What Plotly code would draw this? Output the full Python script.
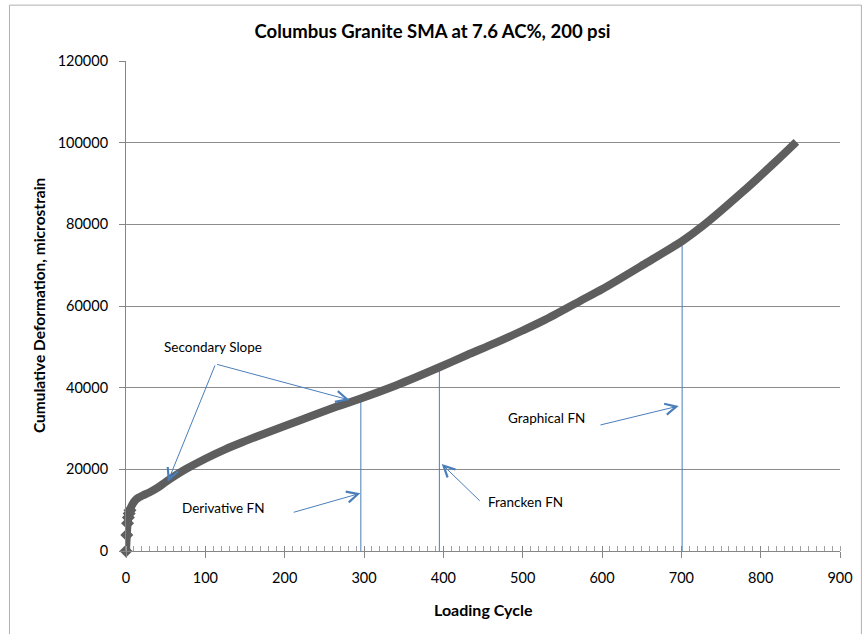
import plotly.graph_objects as go

# ---- data ----
cycles = [0, 1, 2, 3, 4, 5, 6, 8, 10, 13, 17, 21, 30, 40, 50, 60, 75, 100, 125, 150,
          175, 200, 237, 265, 295, 341, 395, 430, 465, 500, 528, 573, 600, 652, 701,
          727, 777, 818, 845]
deformation = [0, 3900, 6800, 8200, 9200, 10000, 10600, 11400, 12000, 12700, 13200,
               13600, 14400, 15500, 16900, 18200, 20000, 22600, 24900, 26900, 28800,
               30600, 33300, 35300, 37300, 40600, 45000, 48000, 50900, 54000, 56600,
               61300, 64100, 70100, 75900, 79600, 87900, 95200, 100200]

fn_names = ["Derivative FN", "Francken FN", "Graphical FN"]
fn_cycles = [296, 395, 701]
fn_tops = [36600, 44200, 74700]

x_ticks = [0, 100, 200, 300, 400, 500, 600, 700, 800, 900]
y_ticks = [0, 20000, 40000, 60000, 80000, 100000, 120000]

FONT = "Lato"
BLUE = "#4a7ebb"
GREY = "#5e5e5e"

fig = go.Figure()

# FN vertical lines
for c, t in zip(fn_cycles, fn_tops):
    fig.add_trace(go.Scatter(x=[c, c], y=[0, t], mode="lines",
                             line=dict(color=BLUE, width=1), hoverinfo="skip",
                             showlegend=False))

# main curve
fig.add_trace(go.Scatter(x=cycles, y=deformation, mode="lines",
                         line=dict(color=GREY, width=8, shape="spline", smoothing=0.8),
                         showlegend=False, cliponaxis=False))
# distinct early markers
fig.add_trace(go.Scatter(x=cycles[:6], y=deformation[:6], mode="markers",
                         marker=dict(symbol="diamond", size=10, color=GREY),
                         showlegend=False, cliponaxis=False))

ann_font = dict(family=FONT, size=13.5, color="black")

def arrow(x0, y0, x1, y1):
    fig.add_annotation(x=x1, y=y1, ax=x0, ay=y0, xref="x", yref="y",
                       axref="x", ayref="y", text="", showarrow=True,
                       arrowhead=5, arrowsize=2.2, arrowwidth=1, arrowcolor=BLUE)

# text labels
fig.add_annotation(x=109.5, y=50030, text="Secondary Slope", showarrow=False, font=ann_font)
fig.add_annotation(x=123, y=10460, text="Derivative FN", showarrow=False, font=ann_font)
fig.add_annotation(x=530, y=32500, text="Graphical FN", showarrow=False, font=ann_font)
fig.add_annotation(x=503, y=12070, text="Francken FN", showarrow=False, font=ann_font)

arrow(112.9, 45800, 52.7, 16970)
arrow(112.9, 45800, 281.7, 36980)
arrow(209.5, 9380, 295.4, 14130)
arrow(596.2, 30780, 696.7, 35510)
arrow(447.8, 11930, 398, 21310)

# axis titles
fig.add_annotation(x=0.5, y=-0.1204, xref="paper", yref="paper", text="<b>Loading Cycle</b>",
                   showarrow=False, font=dict(family=FONT, size=16, color="black"),
                   yanchor="middle")
fig.add_annotation(x=-0.1217, y=0.5, xref="paper", yref="paper",
                   text="<b>Cumulative Deformation, microstrain</b>", textangle=-90,
                   showarrow=False, font=dict(family=FONT, size=15.5, color="black"),
                   xanchor="center", yanchor="middle")

# chart border (extends past right and bottom edges, as in the reference)
fig.add_shape(type="rect", xref="paper", yref="paper", x0=-0.1632, x1=1.03,
              y0=-0.185, y1=1.114, line=dict(color="#b0b0b0", width=1), layer="below")

fig.update_layout(
    width=865, height=634,
    margin=dict(l=126, r=16, t=61, b=83),
    paper_bgcolor="white", plot_bgcolor="white",
    font=dict(family=FONT, color="black"),
    title=dict(text="<b>Columbus Granite SMA at 7.6 AC%, 200 psi</b>",
               x=0.5, xref="container", y=1 - 32 / 634, yanchor="middle",
               font=dict(family=FONT, size=18.5, color="black")),
    xaxis=dict(range=[0, 900], tickvals=x_ticks, showgrid=False, zeroline=False,
               showline=True, linecolor="#868686", linewidth=1,
               ticks="outside", ticklen=6, tickcolor="#868686",
               minor=dict(ticks="inside", dtick=10, ticklen=5, tickcolor="#a0a0a0",
                          showgrid=False),
               tickfont=dict(family=FONT, size=14.5, color="black"),
               ticklabelstandoff=8),
    xaxis2=dict(range=[0, 900], overlaying="x", tickvals=x_ticks, showticklabels=False,
                ticks="inside", ticklen=5, tickcolor="#868686", showgrid=False,
                zeroline=False, showline=False, side="bottom"),
    yaxis=dict(range=[0, 120000], tickvals=y_ticks, tickformat="d", showgrid=True,
               gridcolor="#8c8c8c", gridwidth=1, zeroline=False, showline=True,
               linecolor="#868686", ticks="outside", ticklen=6, tickcolor="#868686",
               tickfont=dict(family=FONT, size=14.5, color="black"),
               ticklabelstandoff=8),
)
# dummy trace to activate xaxis2
fig.add_trace(go.Scatter(x=[None], y=[None], xaxis="x2", showlegend=False))

fig.write_html("out.html", config={"displayModeBar": False},
               post_script="document.body.style.margin='0';document.body.style.overflow='hidden';")
